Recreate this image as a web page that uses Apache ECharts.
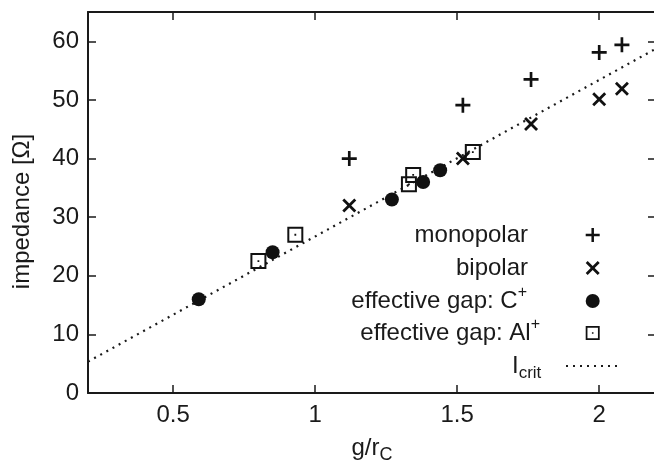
<!DOCTYPE html>
<html>
<head>
<meta charset="utf-8">
<script src="https://cdn.jsdelivr.net/npm/echarts@6/dist/echarts.min.js"></script>
<style>
html,body{margin:0;padding:0;background:#fff;}
#c{width:654px;height:464px;}
</style>
</head>
<body>
<div id="c"></div>
<script>
// ---- data ----
const xMonopolar = [1.12, 1.52, 1.76, 2.0, 2.08];
const yMonopolar = [40.0, 49.1, 53.5, 58.1, 59.4];
const xBipolar = [1.12, 1.52, 1.76, 2.0, 2.08];
const yBipolar = [32.0, 40.0, 45.9, 50.1, 51.9];
const xGapC = [0.59, 0.85, 1.27, 1.38, 1.44];
const yGapC = [16.0, 24.0, 33.0, 36.0, 38.0];
const xGapAl = [0.80, 0.93, 1.33, 1.345, 1.555];
const yGapAl = [22.5, 27.0, 35.6, 37.2, 41.1];
const xCrit = [0.2, 2.2];
const yCrit = [5.35, 58.75];
const xTicks = [0.5, 1, 1.5, 2];
const yTicks = [0, 10, 20, 30, 40, 50, 60];
const seriesNames = ['monopolar', 'bipolar', 'effective gap: C+', 'effective gap: Al+', 'Icrit'];

const pairs = (xs, ys) => xs.map((x, i) => [x, ys[i]]);

const FONT = 'Liberation Sans';
const INK = '#1a1a1a';
const MARK = '#111';
const FS = 24;
const plusPath = 'path://M-1.25,-7H1.25V-1.25H7V1.25H1.25V7H-1.25V1.25H-7V-1.25H-1.25Z';
const crossPath = 'path://M-6.5,-4.66L-4.66,-6.5L0,-1.84L4.66,-6.5L6.5,-4.66L1.84,0L6.5,4.66L4.66,6.5L0,1.84L-4.66,6.5L-6.5,4.66L-1.84,0Z';
const squarePath = 'path://M0,0H16V16H0ZM2,2V14H14V2ZM7.1,7.1H8.9V8.9H7.1Z';

const baseRich = {
  a: {fontFamily: FONT, fontSize: FS, lineHeight: 32, color: INK, verticalAlign: 'middle'},
  sup: {fontFamily: FONT, fontSize: 16, lineHeight: 17, color: INK, verticalAlign: 'top'},
  sub: {fontFamily: FONT, fontSize: 17, lineHeight: 17, color: INK, verticalAlign: 'bottom'}
};

function legendItem(name, label, top, right, itemWidth, padRight, hideSymbol) {
  const lg = {
    data: [name],
    orient: 'vertical',
    align: 'right',
    top: top,
    right: right,
    padding: 0,
    itemWidth: itemWidth,
    itemHeight: 14,
    selectedMode: false,
    formatter: () => label,
    textStyle: {
      fontFamily: FONT, fontSize: FS, lineHeight: 32, color: INK,
      padding: [0, padRight, 0, 0],
      rich: baseRich
    }
  };
  if (hideSymbol) {
    lg.itemStyle = {opacity: 0};
  }
  return lg;
}

const tickStyle = {color: INK, width: 1.5};
const lineStyle = {color: INK, width: 2};

const option = {
  animation: false,
  textStyle: {fontFamily: FONT},
  grid: {left: 88, top: 12, width: 568, height: 381, containLabel: false, outerBoundsMode: 'none'},
  legend: [
    legendItem(seriesNames[0], '{a|monopolar}', 219, 54.3, 14, 52.7),
    legendItem(seriesNames[1], '{a|bipolar}', 252, 54.3, 14, 52.7),
    legendItem(seriesNames[2], '{a|effective gap: C}{sup|+}', 285, 54.3, 14, 53.7),
    legendItem(seriesNames[3], '{a|effective gap: Al}{sup|+}', 317, 54.3, 14, 40.7),
    legendItem(seriesNames[4], '{a|I}{sub|crit}', 350, 34, 53, 19.7, true)
  ],
  xAxis: [
    {
      type: 'value', position: 'bottom', min: 0.2, max: 2.2,
      axisLine: {show: true, onZero: false, lineStyle: lineStyle},
      axisTick: {show: true, inside: true, length: 8, customValues: xTicks, lineStyle: tickStyle},
      axisLabel: {show: true, customValues: xTicks, margin: 10, fontSize: FS, color: INK, fontFamily: FONT},
      splitLine: {show: false},
      name: '{a|g/r}{sub|C}',
      nameLocation: 'middle',
      nameGap: 39,
      nameTextStyle: {fontFamily: FONT, fontSize: FS, color: INK, rich: {
        a: {fontFamily: FONT, fontSize: FS, lineHeight: 32, color: INK, verticalAlign: 'middle'},
        sub: {fontFamily: FONT, fontSize: 18, lineHeight: 18, color: INK, verticalAlign: 'bottom'}
      }}
    },
    {
      type: 'value', position: 'top', min: 0.2, max: 2.2,
      axisLine: {show: true, onZero: false, lineStyle: lineStyle},
      axisTick: {show: true, inside: true, length: 8, customValues: xTicks, lineStyle: tickStyle},
      axisLabel: {show: false},
      splitLine: {show: false}
    }
  ],
  yAxis: [
    {
      type: 'value', position: 'left', min: 0, max: 65,
      axisLine: {show: true, onZero: false, lineStyle: lineStyle},
      axisTick: {show: true, inside: true, length: 8, customValues: yTicks, lineStyle: tickStyle},
      axisLabel: {show: true, customValues: yTicks, margin: 9, fontSize: FS, color: INK, fontFamily: FONT},
      splitLine: {show: false},
      name: 'impedance [Ω]',
      nameLocation: 'middle',
      nameGap: 54,
      nameTextStyle: {fontFamily: FONT, fontSize: FS, color: INK, padding: [0, 18, 0, 0]}
    },
    {
      type: 'value', position: 'right', min: 0, max: 65,
      axisLine: {show: true, onZero: false, lineStyle: lineStyle},
      axisTick: {show: true, inside: true, length: 8, customValues: yTicks, lineStyle: tickStyle},
      axisLabel: {show: false},
      splitLine: {show: false}
    }
  ],
  series: [
    {
      name: seriesNames[4], type: 'line', data: pairs(xCrit, yCrit),
      symbol: 'none', showSymbol: false, z: 1,
      itemStyle: {color: INK},
      lineStyle: {color: INK, width: 2.2, type: [2, 5]},
      silent: true
    },
    {
      name: seriesNames[0], type: 'scatter', data: pairs(xMonopolar, yMonopolar),
      symbol: plusPath, symbolSize: 15, itemStyle: {color: MARK, opacity: 1}, z: 3, silent: true
    },
    {
      name: seriesNames[1], type: 'scatter', data: pairs(xBipolar, yBipolar),
      symbol: crossPath, symbolSize: 14, itemStyle: {color: MARK, opacity: 1}, z: 3, silent: true
    },
    {
      name: seriesNames[3], type: 'scatter', data: pairs(xGapAl, yGapAl),
      symbol: squarePath, symbolSize: 16, itemStyle: {color: MARK, opacity: 1}, z: 3, silent: true
    },
    {
      name: seriesNames[2], type: 'scatter', data: pairs(xGapC, yGapC),
      symbol: 'circle', symbolSize: 14, itemStyle: {color: MARK, opacity: 1}, z: 4, silent: true
    }
  ]
};

const chart = echarts.init(document.getElementById('c'), null, {renderer: 'canvas'});
chart.setOption(option);
</script>
</body>
</html>
